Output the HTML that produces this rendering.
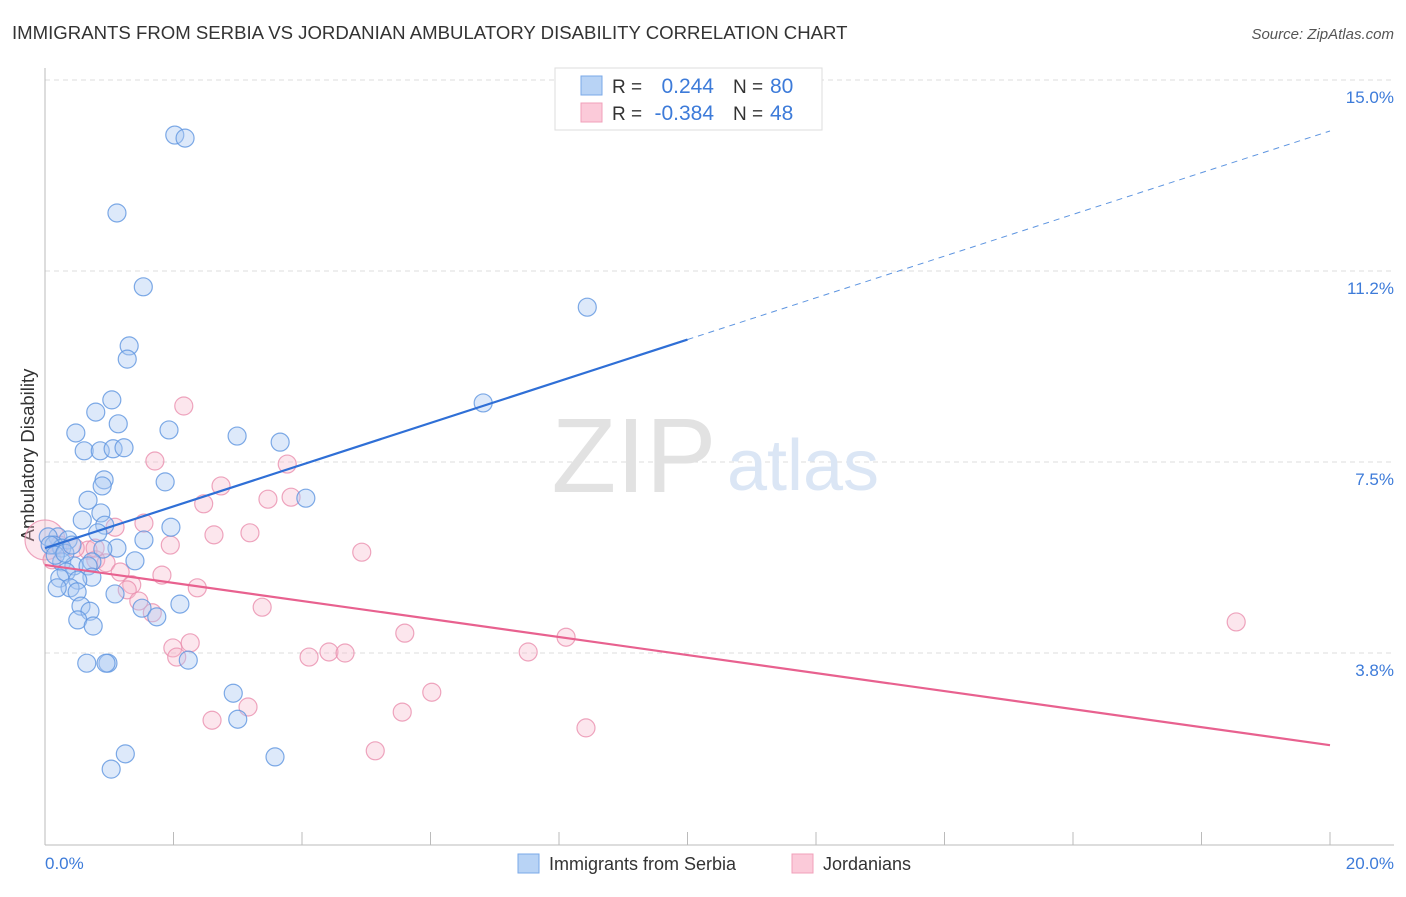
<!DOCTYPE html>
<html><head><meta charset="utf-8"><style>
body{margin:0;background:#fff;font-family:"Liberation Sans",sans-serif;}
svg text{font-family:"Liberation Sans",sans-serif;}
</style></head><body>
<svg id="chart" width="1406" height="892" xmlns="http://www.w3.org/2000/svg">
<text x="12" y="39" font-size="18.6" fill="#333">IMMIGRANTS FROM SERBIA VS JORDANIAN AMBULATORY DISABILITY CORRELATION CHART</text>
<text x="1394" y="39" font-size="15" fill="#555" text-anchor="end" font-style="italic">Source: ZipAtlas.com</text>
<g id="grid"></g>
<g>
<text x="634" y="492" font-size="106" font-family="Liberation Serif" fill="#e2e2e2" text-anchor="middle">ZIP</text>
<text x="803" y="490" font-size="72" fill="#dbe6f5" text-anchor="middle">atlas</text>
</g>
<line x1="45" y1="68" x2="45" y2="845" stroke="#bbb"/>
<line x1="45" y1="845" x2="1394" y2="845" stroke="#bbb"/>
<g id="xticks"></g>
<g id="ylabels"></g>
<text x="45" y="869" font-size="17" fill="#3d7bd9">0.0%</text>
<text x="1394" y="869" font-size="17" fill="#3d7bd9" text-anchor="end">20.0%</text>
<text transform="translate(34,455) rotate(-90)" font-size="18.5" fill="#333" text-anchor="middle">Ambulatory Disability</text>
<g id="pinkpts"></g>
<g id="bluepts"></g>
<g id="lines"></g>
<g>
<rect x="555" y="68" width="267" height="62" fill="#fff" stroke="#ddd"/>
<rect x="581" y="76" width="21" height="19" fill="#b8d3f5" stroke="#7aa8e8"/>
<rect x="581" y="103" width="21" height="19" fill="#fbcad9" stroke="#f0a0ba"/>
<text x="612" y="93" font-size="19" fill="#333">R =</text>
<text x="714" y="93" font-size="21" fill="#3d7bd9" text-anchor="end">0.244</text>
<text x="733" y="93" font-size="19" fill="#333">N =</text>
<text x="770" y="93" font-size="21" fill="#3d7bd9">80</text>
<text x="612" y="120" font-size="19" fill="#333">R =</text>
<text x="714" y="120" font-size="21" fill="#3d7bd9" text-anchor="end">-0.384</text>
<text x="733" y="120" font-size="19" fill="#333">N =</text>
<text x="770" y="120" font-size="21" fill="#3d7bd9">48</text>
</g>
<g>
<rect x="518" y="854" width="21" height="19" fill="#b8d3f5" stroke="#7aa8e8"/>
<text x="549" y="870" font-size="18" fill="#333">Immigrants from Serbia</text>
<rect x="792" y="854" width="21" height="19" fill="#fbcad9" stroke="#f0a0ba"/>
<text x="823" y="870" font-size="18" fill="#333">Jordanians</text>
</g>
</svg>
<script>
const yTicks=[15.0,11.25,7.5,3.75];
const yTickLabels=["15.0%","11.2%","7.5%","3.8%"];
const xTicks=[0,2,4,6,8,10,12,14,16,18,20];
const blueX=[2.02,2.18,1.12,1.53,8.44,1.31,1.28,6.82,1.04,0.79,1.14,1.93,0.48,2.99,3.66,0.61,0.86,1.06,1.23,0.92,0.89,1.87,4.06,0.67,0.87,0.58,0.93,1.96,0.82,1.54,0.20,0.05,0.36,0.14,0.26,1.12,0.90,1.40,0.73,0.26,0.45,0.67,0.33,0.73,0.51,0.23,0.39,0.19,0.50,1.09,2.10,0.56,1.51,0.70,1.74,0.51,0.75,0.65,0.98,0.95,2.23,2.93,3.00,1.25,3.58,1.03,0.08,0.16,0.31,0.42];
const blueY=[13.92,13.86,12.39,10.94,10.54,9.78,9.52,8.66,8.72,8.48,8.25,8.13,8.07,8.01,7.89,7.72,7.72,7.76,7.78,7.15,7.03,7.11,6.79,6.75,6.50,6.36,6.26,6.22,6.11,5.97,6.03,6.03,5.97,5.87,5.81,5.81,5.79,5.56,5.54,5.54,5.46,5.46,5.34,5.24,5.18,5.22,5.03,5.03,4.95,4.91,4.71,4.67,4.63,4.57,4.46,4.40,4.28,3.55,3.55,3.55,3.61,2.96,2.45,1.77,1.71,1.47,5.87,5.67,5.71,5.87];
const pinkX=[0.0,2.16,1.71,3.77,2.74,3.83,3.47,2.47,1.54,1.09,2.63,3.19,1.95,4.93,0.67,0.79,0.95,1.17,1.82,1.35,2.37,1.28,1.46,1.67,3.38,5.60,8.11,18.54,1.99,2.26,2.05,4.11,4.42,4.67,7.52,6.02,3.16,2.60,5.56,8.42,5.14,0.23,0.47,0.11,0.78];
const pinkY=[5.97,8.60,7.52,7.46,7.03,6.81,6.77,6.68,6.30,6.22,6.07,6.11,5.87,5.73,5.77,5.58,5.52,5.34,5.28,5.09,5.03,4.99,4.77,4.54,4.65,4.14,4.06,4.36,3.85,3.95,3.67,3.67,3.77,3.75,3.77,2.98,2.69,2.43,2.59,2.28,1.83,5.87,5.81,5.58,5.81];
const blueTrend=[5.81,14.0];
const pinkTrend=[5.48,1.94];
const blueSolidEnd=10;

const NS="http://www.w3.org/2000/svg";
const sx=v=>45+v*64.25, sy=v=>844-v*50.93;
function mk(tag,attrs,parent){const e=document.createElementNS(NS,tag);for(const k in attrs)e.setAttribute(k,attrs[k]);parent.appendChild(e);return e;}
const grid=document.getElementById('grid'),yl=document.getElementById('ylabels'),xt=document.getElementById('xticks');
yTicks.forEach((t,i)=>{
 const l=mk('line',{x1:45,x2:1394,y1:sy(t),y2:sy(t),stroke:'#ddd','stroke-dasharray':'5,4'},grid);
 
 
 const tx=mk('text',{x:1394,y:sy(t)+23,'font-size':17,fill:'#3d7bd9','text-anchor':'end'},yl);
 tx.textContent=yTickLabels[i];
 
 
});
xTicks.forEach(t=>{
 const l=mk('line',{x1:sx(t),x2:sx(t),y1:832,y2:845,stroke:'#bbb'},xt);
 
 
});
const pg=document.getElementById('pinkpts');
pinkX.forEach((x,i)=>{
 const c=mk('circle',{cx:sx(x),cy:sy(pinkY[i]),r:i===0?20:9,fill:'#f7b8cc','fill-opacity':0.35,stroke:'#ea8fae','stroke-opacity':0.8,'stroke-width':1.2},pg);
 
 
});
const bg=document.getElementById('bluepts');
blueX.forEach((x,i)=>{
 const c=mk('circle',{cx:sx(x),cy:sy(blueY[i]),r:9,fill:'#a9c8f2','fill-opacity':0.4,stroke:'#5e95e0','stroke-opacity':0.8,'stroke-width':1.2},bg);
 
 
});
const lg=document.getElementById('lines');
const bAt=x=>blueTrend[0]+(blueTrend[1]-blueTrend[0])*x/20;
const b1=mk('line',{x1:sx(0),y1:sy(bAt(0)),x2:sx(blueSolidEnd),y2:sy(bAt(blueSolidEnd)),stroke:'#2f6fd6','stroke-width':2.2},lg);


const b2=mk('line',{x1:sx(blueSolidEnd),y1:sy(bAt(blueSolidEnd)),x2:sx(20),y2:sy(bAt(20)),stroke:'#5e95e0','stroke-width':1,'stroke-dasharray':'6,5'},lg);


const p1=mk('line',{x1:sx(0),y1:sy(pinkTrend[0]),x2:sx(20),y2:sy(pinkTrend[1]),stroke:'#e8618f','stroke-width':2.2},lg);


</script>
</body></html>
